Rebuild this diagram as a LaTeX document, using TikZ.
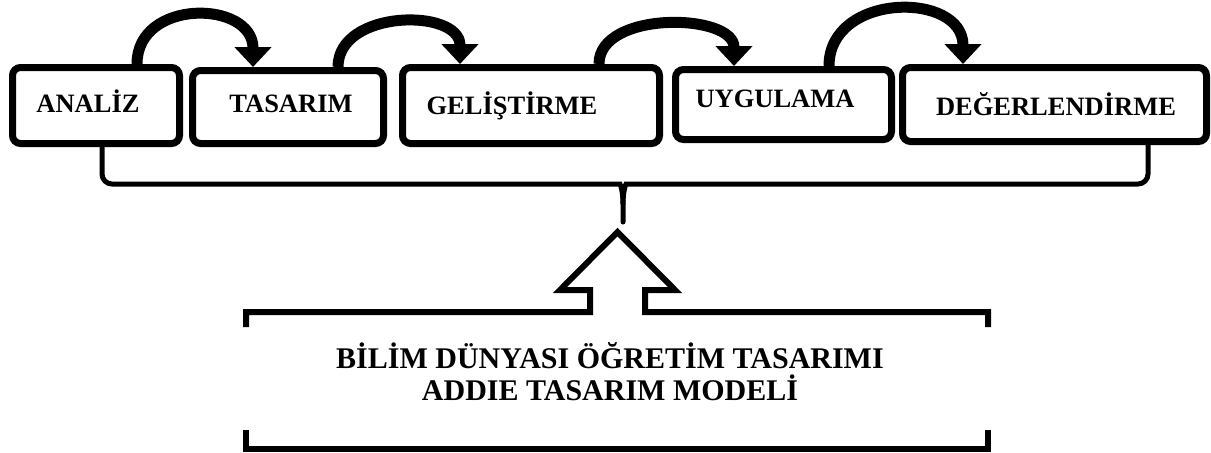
\documentclass[tikz,border=0pt]{standalone}
\usepackage{fontspec}
\setmainfont{Liberation Serif}
\usetikzlibrary{arrows.meta,positioning}

\tikzset{
  stagebox/.style={draw, line width=3.5pt, rounded corners=4pt, inner sep=0pt},
  stagelabel/.style={font=\bfseries\fontsize{13.25}{15}\selectfont, text height=8.8pt, text depth=0pt, inner sep=0pt},
  steparrow/.style={line width=5.5pt, -{Triangle[width=18pt,length=10pt]}},
  braceline/.style={line width=2.5pt, line cap=round},
  frameline/.style={line width=3pt},
  modeltext/.style={font=\bfseries\fontsize{15}{16}\selectfont, align=center, inner sep=0pt},
}

\begin{document}
\begin{tikzpicture}[x=0.5pt,y=-0.5pt]
\useasboundingbox (0,0) rectangle (1211,452);
% the five stages
\node[stagebox, minimum width=83.5pt, minimum height=38pt,
      label={[stagelabel,xshift=-4pt,yshift=1pt]center:ANALİZ}] (analiz) at (96,105.5) {};
\node[stagebox, minimum width=95.5pt, minimum height=36.5pt,
      label={[stagelabel,xshift=1.5pt,yshift=1.5pt]center:TASARIM}] (tasarim) at (288,107) {};
\node[stagebox, minimum width=128.5pt, minimum height=38pt,
      label={[stagelabel,xshift=-9.5pt]center:GELİŞTİRME}] (gelistirme) at (531,105.5) {};
\node[stagebox, minimum width=108pt, minimum height=35pt,
      label={[stagelabel,xshift=-4.25pt,yshift=2.75pt]center:UYGULAMA}] (uygulama) at (783.5,104.5) {};
\node[stagebox, minimum width=152pt, minimum height=37pt,
      label={[stagelabel,xshift=0.75pt,yshift=-1.25pt]center:DEĞERLENDİRME}] (degerlendirme) at (1054.5,104.5) {};

% arrows over the stages
\draw[steparrow] ([xshift=20.5pt]analiz.north) .. controls +(0,-66) and +(0,-67) .. ([xshift=-17.5pt]tasarim.north);
\draw[steparrow] ([xshift=25pt]tasarim.north) .. controls +(0,-58) and +(0,-56) .. ([xshift=-35.5pt]gelistirme.north);
\draw[steparrow] ([xshift=34pt]gelistirme.north) .. controls +(0,-54) and +(0,-53) .. ([xshift=-24.75pt]uygulama.north);
\draw[steparrow] ([xshift=22.75pt]uygulama.north) .. controls +(0,-74) and +(0,-73) .. ([xshift=-45.75pt]degerlendirme.north);

% brace under the stages
\coordinate (cusp) at (623,222);
\draw[braceline] ([xshift=3pt]analiz.south) [rounded corners=5pt] |- (610,184) [sharp corners]
      .. controls (620,184) and (623,190) .. (623,204) -- (cusp);
\draw[braceline] ([xshift=46.75pt]degerlendirme.south) [rounded corners=5pt] |- (636,184) [sharp corners]
      .. controls (626,184) and (623,190) .. (623,204);

% model frame with the up arrow
\draw[frameline] (246,327) -- (246,312) -- (590,312) -- (590,290) -- (560,290) -- (617.5,232)
      -- (675,290) -- (645,290) -- (645,312) -- (988,312) -- (988,327);
\draw[frameline] (246,430) -- (246,449) -- (988,449) -- (988,430);
\node[modeltext] (model) at (610,372) {BİLİM DÜNYASI ÖĞRETİM TASARIMI\\ADDIE TASARIM MODELİ};
\end{tikzpicture}
\end{document}
